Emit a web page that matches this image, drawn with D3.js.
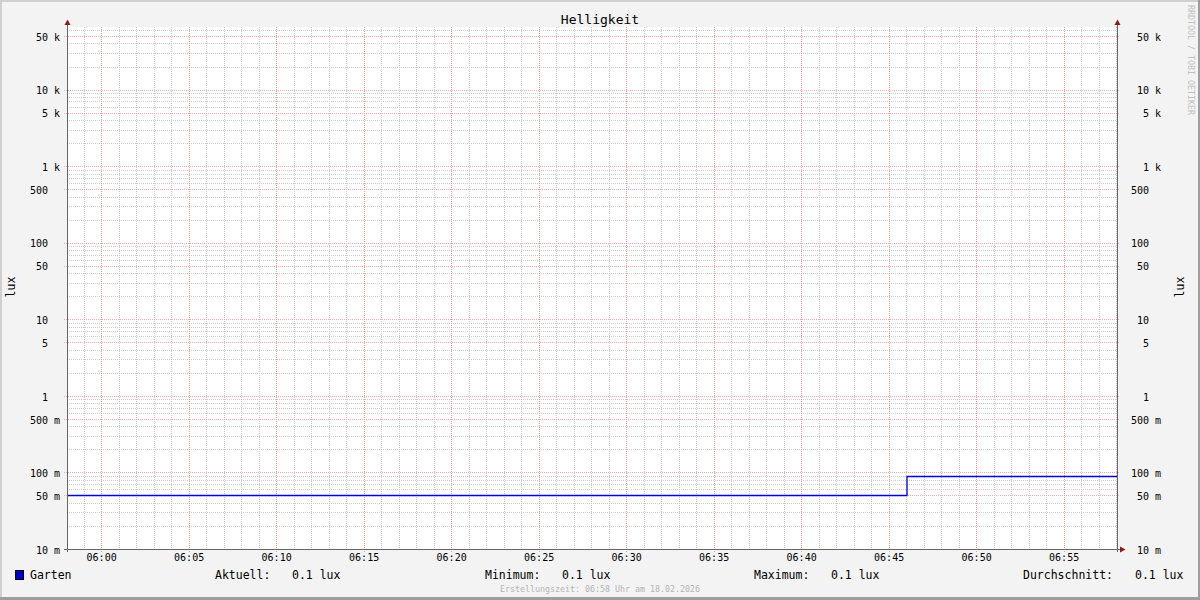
<!DOCTYPE html>
<html><head><meta charset="utf-8">
<script src="https://cdn.jsdelivr.net/npm/d3@7"></script>
<style>
html,body{margin:0;padding:0;background:#f3f3f3;}
svg text{font-family:"DejaVu Sans Mono",monospace;white-space:pre;}
</style></head>
<body>
<svg id="c" width="1200" height="600"></svg>
<script>
// ---- data ----
const title = "Helligkeit";
const seriesName = "Garten";
const unit = "lux";
const sampleTimes = ["05:58:03", "06:46:03", "06:58:03"];
const sampleValues = [0.05, 0.089, 0.089];
const yTickValues = [0.01, 0.05, 0.1, 0.5, 1, 5, 10, 50, 100, 500, 1000, 5000, 10000, 50000];
const xTickLabels = ["06:00","06:05","06:10","06:15","06:20","06:25","06:30","06:35","06:40","06:45","06:50","06:55"];
const legendLabels = ["Aktuell:", "Minimum:", "Maximum:", "Durchschnitt:"];
const legendValues = ["0.1 lux", "0.1 lux", "0.1 lux", "0.1 lux"];
const footer = "Erstellungszeit: 06:58 Uhr am 18.02.2026";
const watermark = "RRDTOOL / TOBI OETIKER";
const timeStart = "05:58:03", timeEnd = "06:58:03";
const yMin = 0.01, yMax = 65600;

// ---- setup ----
const svg = d3.select("#c");
const W = 1200, H = 600;
const L = 67, R = 1117, T = 27, B = 549;
const parse = s => { const [h,m,sec] = s.split(":").map(Number); return new Date(2026,1,18,h,m,sec||0); };

const x = d3.scaleTime().domain([parse(timeStart), parse(timeEnd)]).range([L, R]);
const y = d3.scaleLog().domain([yMin, yMax]).range([B, T]);
const px = v => Math.round(v) + 0.5;

// background + frame
svg.append("rect").attr("width",W).attr("height",H).attr("fill","#f3f3f3");
svg.append("rect").attr("x",L).attr("y",T).attr("width",R-L).attr("height",B-T).attr("fill","#ffffff");
svg.append("line").attr("x1",0).attr("y1",1).attr("x2",W).attr("y2",1).attr("stroke","#cfcfcf").attr("stroke-width",2);
svg.append("line").attr("x1",1).attr("y1",0).attr("x2",1).attr("y2",H).attr("stroke","#cfcfcf").attr("stroke-width",2);
svg.append("line").attr("x1",0).attr("y1",H-1.5).attr("x2",W).attr("y2",H-1.5).attr("stroke","#9e9e9e").attr("stroke-width",3);
svg.append("line").attr("x1",W-1).attr("y1",0).attr("x2",W-1).attr("y2",H).attr("stroke","#9e9e9e").attr("stroke-width",2);

// grid
const grid = svg.append("g");
const minorY = [], majorY = [];
for (let e = -2; e <= 4; e++) {
  const d = Math.pow(10, e);
  [1,5].forEach(k => { const v = d*k; if (v >= yMin && v <= yMax) majorY.push(v); });
  [2,3,4,6,7,8,9].forEach(k => { const v = d*k; if (v >= yMin && v <= yMax) minorY.push(v); });
}
const minutes = x.ticks(d3.timeMinute.every(1));
const majorX = minutes.filter(d => d.getMinutes() % 5 === 0);
const minorX = minutes.filter(d => d.getMinutes() % 5 !== 0);

const minorCol = "#cdcdcd", majorCol = "#eeb0b0";
grid.selectAll("line.hy").data(minorY).join("line").attr("class","hy")
  .attr("x1",L).attr("x2",R).attr("y1",d=>px(y(d))).attr("y2",d=>px(y(d)))
  .attr("stroke",minorCol).attr("stroke-dasharray","1,1");
grid.selectAll("line.vx").data(minorX).join("line").attr("class","vx")
  .attr("y1",T).attr("y2",B).attr("x1",d=>px(x(d))).attr("x2",d=>px(x(d)))
  .attr("stroke",minorCol).attr("stroke-dasharray","1,1");
grid.selectAll("line.hY").data(majorY).join("line").attr("class","hY")
  .attr("x1",L-3).attr("x2",R+3).attr("y1",d=>px(y(d))).attr("y2",d=>px(y(d)))
  .attr("stroke",majorCol).attr("stroke-dasharray","1,1");
grid.selectAll("line.vX").data(majorX).join("line").attr("class","vX")
  .attr("y1",T).attr("y2",B+3).attr("x1",d=>px(x(d))).attr("x2",d=>px(x(d)))
  .attr("stroke","#e89c9c").attr("stroke-dasharray","1,1");

// data line
const pts = sampleTimes.map((t,i) => ({t: parse(t), v: sampleValues[i]}));
const line = d3.line().x(d=>x(d.t)).y(d=>px(y(d.v))).curve(d3.curveStepAfter);
svg.append("path").datum(pts).attr("d",line).attr("fill","none").attr("stroke","#0000dd").attr("stroke-width",1.3);

// axes lines
const axisCol = "#666666", arrowCol = "#8b1a1a";
svg.append("line").attr("x1",L+0.5).attr("x2",L+0.5).attr("y1",22).attr("y2",B+3).attr("stroke",axisCol);
svg.append("line").attr("x1",R+0.5).attr("x2",R+0.5).attr("y1",22).attr("y2",B+3).attr("stroke",axisCol);
svg.append("line").attr("x1",L-3).attr("x2",R+4).attr("y1",B+0.5).attr("y2",B+0.5).attr("stroke",axisCol);
[L, R].forEach(p => {
  svg.append("path").attr("d",`M${p+0.5-3},${25}L${p+0.5+3},${25}L${p+0.5},${19.5}Z`).attr("fill",arrowCol);
});
svg.append("path").attr("d",`M${R+3},${B+0.5-3}L${R+3},${B+0.5+3}L${R+8.5},${B+0.5}Z`).attr("fill",arrowCol);

// y axis labels via d3 axes
const yfmt = v => {
  if (v < 1) return d3.format("d")(Math.round(v*1000)) + " m";
  if (v >= 1000) return d3.format("d")(v/1000) + " k";
  return d3.format("d")(v) + "  ";
};
const yAxisL = d3.axisLeft(y).tickValues(yTickValues).tickFormat(yfmt).tickSize(0).tickPadding(7);
const gL = svg.append("g").attr("transform",`translate(${L},1)`).call(yAxisL);
const yAxisR = d3.axisLeft(y).tickValues(yTickValues).tickFormat(yfmt).tickSize(0).tickPadding(0);
const gR = svg.append("g").attr("transform",`translate(1161,1)`).call(yAxisR);
[gL, gR].forEach(g => {
  g.select(".domain").remove();
  g.selectAll("text").attr("font-family","DejaVu Sans Mono").attr("font-size",10).attr("fill","#000").style("white-space","pre");
});

const xAxis = d3.axisBottom(x).tickValues(xTickLabels.map(parse)).tickFormat(d3.timeFormat("%H:%M")).tickSize(0).tickPadding(5);
const gX = svg.append("g").attr("transform",`translate(0,${B})`).call(xAxis);
gX.select(".domain").remove();
gX.selectAll("text").attr("font-family","DejaVu Sans Mono").attr("font-size",10).attr("fill","#000");

// title
svg.append("text").attr("x",600).attr("y",24).attr("text-anchor","middle").attr("font-size",13).attr("fill","#000").text(title);
// unit labels
svg.append("text").attr("transform","translate(14.5,287) rotate(-90)").attr("text-anchor","middle").attr("font-size",11.5).attr("fill","#000").text(unit);
svg.append("text").attr("transform","translate(1183.5,287) rotate(-90)").attr("text-anchor","middle").attr("font-size",11.5).attr("fill","#000").text(unit);
// watermark
svg.append("text").attr("transform","translate(1188,5) rotate(90)").attr("text-anchor","start").attr("font-size",8.3).attr("fill","#c0c0c0").text(watermark);

// legend
svg.append("rect").attr("x",15.5).attr("y",570.5).attr("width",8).attr("height",9).attr("fill","#0000cc").attr("stroke","#000");
svg.append("text").attr("x",30).attr("y",579).attr("font-size",11.5).attr("fill","#000").text(seriesName);
const legX = [215, 485, 754, 1023];
const valX = [292, 562, 831, 1135];
legendLabels.forEach((lab,i) => {
  svg.append("text").attr("x",legX[i]).attr("y",579).attr("font-size",11.5).attr("fill","#000").text(lab);
  svg.append("text").attr("x",valX[i]).attr("y",579).attr("font-size",11.5).attr("fill","#000").text(legendValues[i]);
});
svg.append("text").attr("x",600).attr("y",592).attr("text-anchor","middle").attr("font-size",8.3).attr("fill","#b4b4b4").text(footer);
</script>
</body></html>
